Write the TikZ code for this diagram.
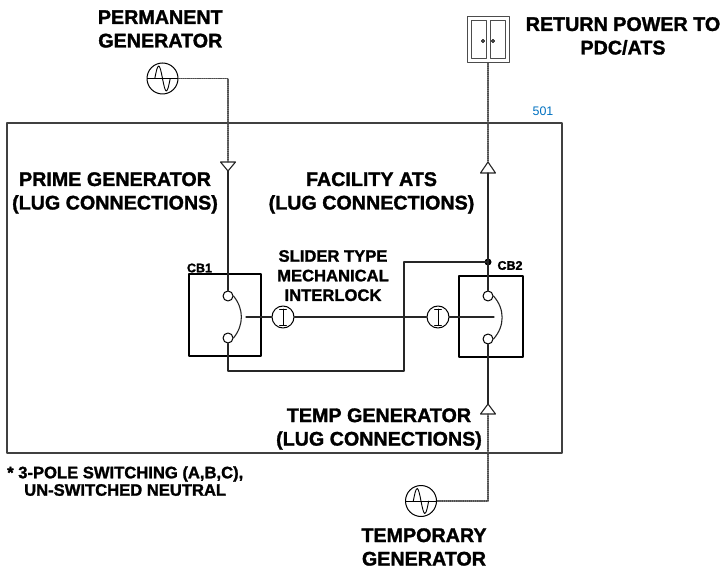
\documentclass[tikz,border=0pt]{standalone}
\usepackage{fontspec}
\setmainfont{Liberation Sans}[BoldFeatures={FakeBold=1.5}]
\definecolor{sheetblue}{RGB}{0,112,192}

\begin{document}
\begin{tikzpicture}[x=1pt,y=-1pt,line cap=round,line join=round,
	wire/.style={line width=1.1pt,color=black!85},
	feed/.style={line width=1.1pt,color=black!70,densely dotted},
	frame/.style={line width=1.2pt,color=black!75},
	biglbl/.style={font=\fontsize{19.7}{23.5}\selectfont\bfseries,align=center,inner sep=0pt},
	midlbl/.style={font=\fontsize{16.6}{19.6}\selectfont\bfseries,align=center,inner sep=0pt},
	cblbl/.style={font=\fontsize{12.5}{14}\selectfont\bfseries,inner sep=0pt},
	gen/.style={circle,draw,line width=1pt,minimum size=31pt,inner sep=0pt,
		path picture={\draw[line width=0.9pt] (path picture bounding box.west) -- (path picture bounding box.east);
			\draw[line width=0.9pt,shift={(path picture bounding box.center)}] (-7.7,0) sin (-3.85,-12.5) cos (0,0) sin (3.85,12.5) cos (7.7,0);}},
	ilock/.style={circle,draw,line width=1pt,minimum size=22pt,inner sep=0pt,
		path picture={\draw[line width=0.9pt,shift={(path picture bounding box.center)}] (0,-8) -- (0,8) (-3.5,-8) -- (3.5,-8) (-3.5,8) -- (3.5,8);}},
	contact/.style={circle,draw,line width=1pt,minimum size=10pt,inner sep=0pt},
	cbbox/.style={draw,line width=1.1pt,inner sep=0pt},
	jdot/.style={circle,fill,inner sep=0pt,minimum size=7pt}]
		\useasboundingbox (0,0) rectangle (723,569);
		% enclosure
		\draw [frame] (7,123) rectangle (562,453);
		\node [font=\fontsize{12.4}{14}\selectfont,text=sheetblue,inner sep=0pt] (sheet) at (543,111.7) {501};
		% sources and return
		\node [gen] (permgen) at (162.5,78.5) {};
		\node [gen] (tempgen) at (421,501) {};
		\node [draw,line width=1pt,color=black!70,minimum width=42pt,minimum height=46pt,inner sep=0pt] (retbox) at (488,40) {};
		\draw [line width=1pt,color=black!70] (471,21) rectangle (486,59) (490,21) rectangle (505,59);
		\draw [line width=0.8pt] (483,41) circle (1.5) (493,41) circle (1.5);
		% breakers
		\node [cbbox,minimum width=72pt,minimum height=82pt] (cb1) at (225,315) {};
		\node [cbbox,minimum width=64pt,minimum height=81pt] (cb2) at (491,316.5) {};
		\node [contact] (cb1top) at (228,296) {};
		\node [contact] (cb1bot) at (228,338) {};
		\node [contact] (cb2top) at (488,296) {};
		\node [contact] (cb2bot) at (488,339) {};
		\node [ilock] (ilock1) at (283,317) {};
		\node [ilock] (ilock2) at (438,317) {};
		\node [jdot] (jct) at (488,262) {};
		\coordinate (blade1) at (246,317);
		\coordinate (blade2) at (494,317);
		\coordinate (loop) at (404,371);
		% lugs
		\coordinate (permlug) at (228,162);
		\coordinate (permlugtip) at (228,171);
		\coordinate (atslug) at (488,173);
		\coordinate (atslugtip) at (488,162);
		\coordinate (templug) at (488,414);
		\coordinate (templugtip) at (488,404);
		\foreach \b/\t in {permlug/permlugtip,atslug/atslugtip,templug/templugtip}
			\draw [wire] (\b) +(-7.5,0) -- +(7.5,0) -- (\t) -- cycle;
		% connections
		\draw [feed] (permgen.east) -| (permlug);
		\draw [wire] (permlugtip) -- (cb1top.north);
		\draw [feed] (retbox.south) -- (atslugtip);
		\draw [wire] (atslug) -- (jct.center) -- (cb2top.north);
		\draw [wire] (cb2bot.south) -- (templugtip);
		\draw [feed] (templug) |- (tempgen.east);
		\draw [wire] (cb1bot.south) |- (loop) |- (jct.center);
		\draw [wire] (cb1top.east) .. controls (244,309) and (244,325) .. (cb1bot.east);
		\draw [wire] (cb2top.east) .. controls (505,309) and (505,326) .. (cb2bot.east);
		\draw [wire] (blade1) -- (ilock1.west);
		\draw [wire] (ilock1.east) -- (ilock2.west);
		\draw [wire] (ilock2.east) -- (blade2);
		% labels
		\node [biglbl] (permlbl) at (160.3,29) {PERMANENT\\GENERATOR};
		\node [biglbl] (retlbl) at (623,36) {RETURN POWER TO\\PDC/ATS};
		\node [biglbl] (primelbl) at (115,192.9) {PRIME GENERATOR\\(LUG CONNECTIONS)};
		\node [biglbl] (atslbl) at (371.5,192.9) {FACILITY ATS\\(LUG CONNECTIONS)};
		\node [biglbl] (templbl) at (379,429) {TEMP GENERATOR\\(LUG CONNECTIONS)};
		\node [biglbl] (tempgenlbl) at (424,547) {TEMPORARY\\GENERATOR};
		\node [midlbl] (ilocklbl) at (333,275.6) {SLIDER TYPE\\MECHANICAL\\INTERLOCK};
		\node [cblbl] (cb1lbl) at (199.5,268) {CB1};
		\node [cblbl] (cb2lbl) at (510,265.5) {CB2};
		\node [midlbl,anchor=west] (note1) at (7,474) {* 3-POLE SWITCHING (A,B,C),};
		\node [midlbl,anchor=west] (note2) at (24,490) {UN-SWITCHED NEUTRAL};
\end{tikzpicture}
\end{document}
